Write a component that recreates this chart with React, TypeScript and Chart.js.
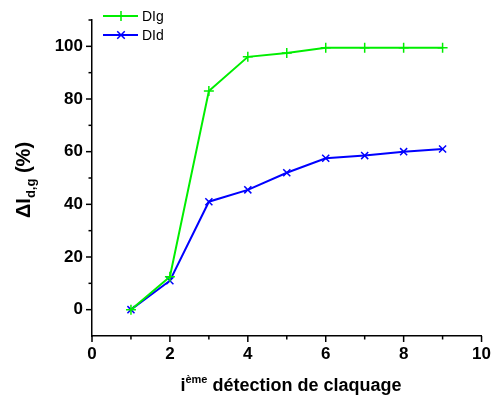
import React, { useEffect, useRef } from "react";
import { Chart, registerables } from "chart.js";

Chart.register(...registerables);

const xValues = [1, 2, 3, 4, 5, 6, 7, 8, 9];
const dIgValues = [0, 12.5, 83, 96, 97.5, 99.5, 99.5, 99.5, 99.5];
const dIdValues = [0, 11, 41, 45.5, 52, 57.5, 58.5, 60, 61];
const xMajorTicks = [0, 2, 4, 6, 8, 10];
const xMinorTicks = [1, 3, 5, 7, 9];
const yMajorTicks = [0, 20, 40, 60, 80, 100];
const yMinorTicks = [10, 30, 50, 70, 90, 110];
const seriesNames = ["DIg", "DId"];
const seriesColors = ["#00ee00", "#0000ff"];
const seriesPointStyles = ["cross", "crossRot"];

const FONT = "'Liberation Sans', Arial, sans-serif";

const decorPlugin = {
  id: "decor",
  afterDraw(chart: any) {
    const ctx = chart.ctx as CanvasRenderingContext2D;
    const xs = chart.scales.x;
    const ys = chart.scales.y;
    const area = chart.chartArea;
    ctx.save();
    ctx.strokeStyle = "#000";
    ctx.lineWidth = 1.5;
    // tick marks
    const drawX = (v: number, len: number) => {
      const px = xs.getPixelForValue(v);
      ctx.beginPath();
      ctx.moveTo(px, area.bottom);
      ctx.lineTo(px, area.bottom + len);
      ctx.stroke();
    };
    const drawY = (v: number, len: number) => {
      const py = ys.getPixelForValue(v);
      ctx.beginPath();
      ctx.moveTo(area.left, py);
      ctx.lineTo(area.left - len, py);
      ctx.stroke();
    };
    xMajorTicks.forEach((v) => drawX(v, 6));
    xMinorTicks.forEach((v) => drawX(v, 3.5));
    yMajorTicks.forEach((v) => drawY(v, 6));
    yMinorTicks.forEach((v) => drawY(v, 3.5));

    // legend
    seriesNames.forEach((name, i) => {
      const y = 16 + i * 19;
      ctx.strokeStyle = seriesColors[i];
      ctx.lineWidth = 2;
      ctx.beginPath();
      ctx.moveTo(103, y);
      ctx.lineTo(138, y);
      ctx.stroke();
      ctx.lineWidth = 1.5;
      ctx.beginPath();
      const cx = 121;
      const r = 5;
      if (i === 0) {
        ctx.moveTo(cx - r, y); ctx.lineTo(cx + r, y);
        ctx.moveTo(cx, y - r); ctx.lineTo(cx, y + r);
      } else {
        const d = r * 0.75;
        ctx.moveTo(cx - d, y - d); ctx.lineTo(cx + d, y + d);
        ctx.moveTo(cx - d, y + d); ctx.lineTo(cx + d, y - d);
      }
      ctx.stroke();
      ctx.fillStyle = "#000";
      ctx.font = `14px ${FONT}`;
      ctx.textBaseline = "middle";
      ctx.textAlign = "left";
      ctx.fillText(name, 142, y + 1);
    });

    // x title: i^{ème} détection de claquage
    ctx.fillStyle = "#000";
    ctx.textBaseline = "alphabetic";
    ctx.textAlign = "left";
    const bigX = `bold 18px ${FONT}`;
    const supX = `bold 11px ${FONT}`;
    const xParts: [string, string, number][] = [
      ["i", bigX, 0],
      ["ème", supX, -8],
      [" détection de claquage", bigX, 0],
    ];
    let totalW = 0;
    xParts.forEach(([t, f]) => { ctx.font = f; totalW += ctx.measureText(t).width; });
    let xPos = 291 - totalW / 2;
    xParts.forEach(([t, f, dy]) => {
      ctx.font = f;
      ctx.fillText(t, xPos, 391 + dy);
      xPos += ctx.measureText(t).width;
    });

    // y title: ΔI_{d,g} (%)
    const bigY = `bold 20px ${FONT}`;
    const subY = `bold 13px ${FONT}`;
    const yParts: [string, string, number][] = [
      ["ΔI", bigY, 0],
      ["d,g", subY, 5],
      [" (%)", bigY, 0],
    ];
    let totalH = 0;
    yParts.forEach(([t, f]) => { ctx.font = f; totalH += ctx.measureText(t).width; });
    ctx.translate(30, 180);
    ctx.rotate(-Math.PI / 2);
    let p = -totalH / 2;
    yParts.forEach(([t, f, dy]) => {
      ctx.font = f;
      ctx.fillText(t, p, dy);
      p += ctx.measureText(t).width;
    });
    ctx.restore();
  },
};

export default function App() {
  const ref = useRef<HTMLCanvasElement | null>(null);
  useEffect(() => {
    if (!ref.current) return;
    const chart = new Chart(ref.current, {
      type: "line",
      data: {
        datasets: [
          {
            label: seriesNames[0],
            data: xValues.map((x, i) => ({ x, y: dIgValues[i] })),
            borderColor: seriesColors[0],
            backgroundColor: seriesColors[0],
            borderWidth: 2,
            pointStyle: seriesPointStyles[0] as any,
            pointRadius: 5,
            pointBorderWidth: 1.5,
            fill: false,
            tension: 0,
          },
          {
            label: seriesNames[1],
            data: xValues.map((x, i) => ({ x, y: dIdValues[i] })),
            borderColor: seriesColors[1],
            backgroundColor: seriesColors[1],
            borderWidth: 2,
            pointStyle: seriesPointStyles[1] as any,
            pointRadius: 5,
            pointBorderWidth: 1.5,
            fill: false,
            tension: 0,
          },
        ],
      },
      options: {
        responsive: false,
        animation: false,
        devicePixelRatio: 1,
        layout: { padding: { top: 20, right: 0, left: 0, bottom: 0 } },
        plugins: { legend: { display: false }, tooltip: { enabled: false } },
        scales: {
          x: {
            type: "linear",
            min: 0,
            max: 10,
            afterBuildTicks: (s: any) => { s.ticks = xMajorTicks.map((v) => ({ value: v })); },
            afterFit: (s: any) => { s.height = 62; },
            grid: { display: false },
            border: { display: true, color: "#000", width: 1.5 },
            ticks: {
              color: "#000",
              font: { family: FONT, size: 17, weight: "bold" },
              padding: 0,
              maxRotation: 0,
              autoSkip: false,
            },
          },
          y: {
            type: "linear",
            min: -10,
            max: 110,
            afterBuildTicks: (s: any) => { s.ticks = yMajorTicks.map((v) => ({ value: v })); },
            afterFit: (s: any) => { s.width = 92; },
            grid: { display: false },
            border: { display: true, color: "#000", width: 1.5 },
            ticks: {
              color: "#000",
              font: { family: FONT, size: 17, weight: "bold" },
              padding: 1,
              autoSkip: false,
            },
          },
        },
      },
      plugins: [decorPlugin],
    });
    return () => chart.destroy();
  }, []);
  return (
    <div style={{ position: "fixed", left: 0, top: 0, width: 491, height: 398, background: "#fff" }}>
      <canvas ref={ref} width={491} height={398} style={{ display: "block" }} />
    </div>
  );
}
